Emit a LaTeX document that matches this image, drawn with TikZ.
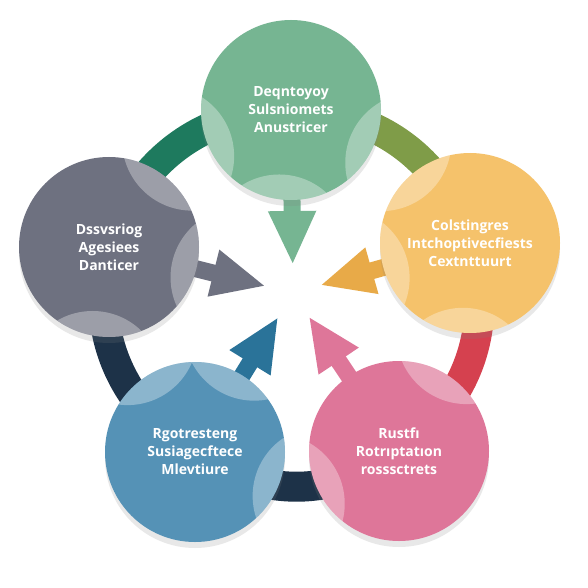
\documentclass[tikz,border=0pt]{standalone}
\usepackage{fontspec}
\setmainfont{Open Sans}
\usetikzlibrary{arrows.meta,backgrounds,shadows}
\definecolor{sage}{HTML}{76B592}
\definecolor{slate}{HTML}{6E7180}
\definecolor{honey}{HTML}{F5C26B}
\definecolor{steel}{HTML}{5592B6}
\definecolor{rose}{HTML}{DE7699}
\definecolor{pine}{HTML}{1E7A5E}
\definecolor{olive}{HTML}{7F9C48}
\definecolor{berry}{HTML}{D5414F}
\definecolor{navy}{HTML}{1D3248}
\definecolor{amber}{HTML}{E8AA48}
\definecolor{ocean}{HTML}{2A7399}

\begin{document}
\begin{tikzpicture}[x=1pt, y=-1pt,
  stage/.style={circle, minimum size=180pt, inner sep=0pt, text=white,
    font=\fontsize{14}{18}\selectfont\bfseries, align=center,
    drop shadow={shadow xshift=0pt, shadow yshift=-6pt, opacity=.18}},
  band/.style={line width=30pt},
  inward/.style={line width=17pt, -{Triangle[width=44pt,length=54pt]}, shorten >=28pt}]

\useasboundingbox (0,0) rectangle (588,588);

\coordinate (hub) at (293,293);

\node[stage, fill=sage]  (research) at (291,110) {Deqntoyoy\\Sulsniomets\\Anustricer};
\node[stage, fill=honey] (concept)  at (470,243) {Colstingres\\Intchoptivecfiests\\Cextnttuurt};
\node[stage, fill=rose]  (release)  at (399,451) {Rustfı\\Rotrıptatıon\\rosssctrets};
\node[stage, fill=steel] (growth)   at (195,452) {Rgotresteng\\Susiagecftece\\Mlevtiure};
\node[stage, fill=slate] (design)   at (109,247) {Dssvsriog\\Agesiees\\Danticer};

\foreach \c/\a in {research/95, research/160, research/23,
                   design/-52, design/13, design/97,
                   concept/229, concept/165, concept/93,
                   growth/-64, growth/19, growth/240,
                   release/-60, release/157}{
  \begin{scope}
    \clip (\c.center) circle[radius=90];
    \fill[white, opacity=.32] ([shift={(\a:135)}]\c.center) circle[radius=70];
  \end{scope}
}

\begin{scope}[on background layer]
  \fill[white] (0,0) rectangle (588,588);
  \draw[band, pine]  (research.center) to[bend right=36] (design.center);
  \draw[band, olive] (research.center) to[bend left=36]  (concept.center);
  \draw[band, berry] (concept.center)  to[bend left=36]  (release.center);
  \draw[band, navy]  (release.center)  to[bend left=36]  (growth.center);
  \draw[band, navy]  (growth.center)   to[bend left=36]  (design.center);
  \draw[inward, sage]  (research.center) -- (hub);
  \draw[inward, amber] (concept.center)  -- (hub);
  \draw[inward, rose]  (release.center)  -- (hub);
  \draw[inward, ocean] (growth.center)   -- (hub);
  \draw[inward, slate] (design.center)   -- (hub);
\end{scope}
\end{tikzpicture}
\end{document}
